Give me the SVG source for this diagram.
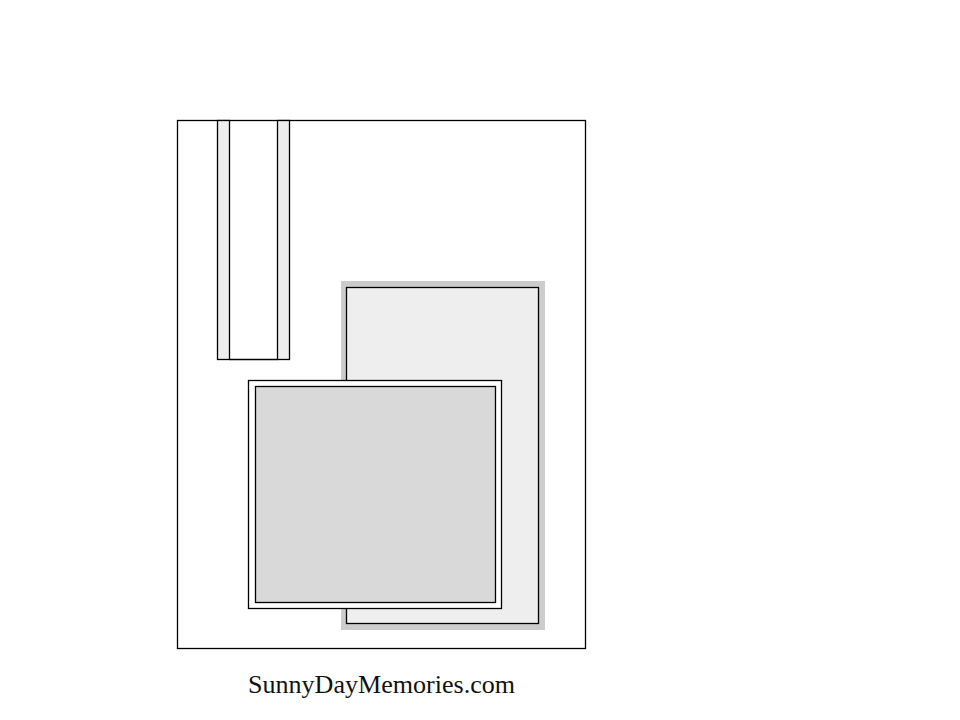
<svg xmlns="http://www.w3.org/2000/svg" width="960" height="720" viewBox="0 0 960 720">
<style>
.ln{stroke:#000;stroke-width:1.3}
</style>
<rect width="960" height="720" fill="#fff"/>
<g id="card"><rect class="ln" x="177.5" y="120.5" width="408" height="528" fill="#fff"/></g>
<g id="strips">
<rect class="ln" x="217.5" y="120.5" width="12" height="239" fill="#eeeeee"/>
<rect class="ln" x="277.5" y="120.5" width="12" height="239" fill="#eeeeee"/>
<line class="ln" x1="229.5" y1="359.5" x2="277.5" y2="359.5"/>
</g>
<g id="mat">
<rect x="341" y="281" width="204" height="349" fill="#cccccc"/>
<rect class="ln" x="346.5" y="287.5" width="192" height="336" fill="#eeeeee"/>
</g>
<g id="photo">
<rect class="ln" x="248.5" y="380.5" width="253" height="228" fill="#fff"/>
<rect class="ln" x="255.5" y="386.5" width="240" height="216" fill="#d9d9d9"/>
</g>
<text x="381.5" y="693" font-family="Liberation Serif, serif" font-size="26" text-anchor="middle" fill="#111" textLength="267" lengthAdjust="spacingAndGlyphs">SunnyDayMemories.com</text>
</svg>
